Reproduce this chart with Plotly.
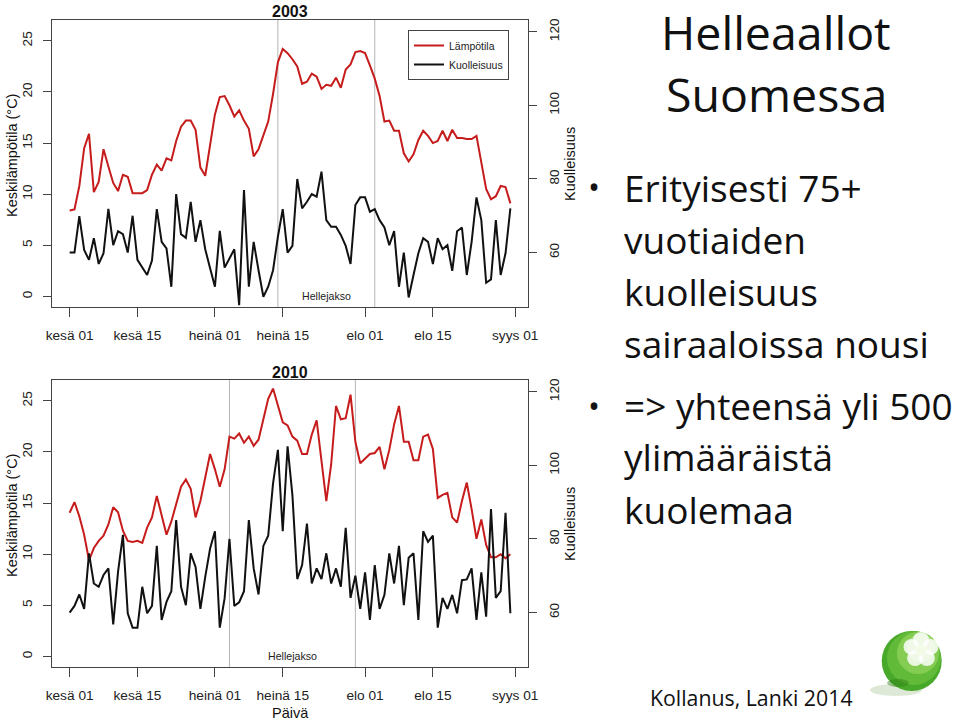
import math
import plotly.graph_objects as go

# ---------------- data ----------------
days = list(range(92))  # day offset from June 1 (June 1 .. Aug 31)
tick_days = [0, 14, 30, 44, 61, 75, 92]
tick_labels = ["kesä 01", "kesä 15", "heinä 01", "heinä 15", "elo 01", "elo 15", "syys 01"]

temp_2003 = [8.4, 8.5, 10.8, 14.5, 15.9, 10.2, 11.2, 14.4, 12.7, 11.1,
             10.3, 11.9, 11.7, 10.1, 10.1, 10.1, 10.4, 11.9, 12.9, 12.3,
             13.5, 13.3, 15.2, 16.6, 17.2, 17.2, 16.3, 12.6, 11.8, 14.7,
             17.8, 19.5, 19.6, 18.7, 17.6, 18.2, 17.2, 16.4, 13.7, 14.4,
             15.8, 17.1, 19.8, 22.9, 24.2, 23.8, 23.2, 22.5, 20.8, 21.0,
             21.8, 21.5, 20.3, 20.7, 20.6, 21.4, 20.4, 22.2, 22.7, 23.9,
             24.0, 23.8, 22.6, 21.3, 19.6, 17.1, 17.2, 16.2, 16.2, 14.0,
             13.2, 13.9, 15.3, 16.2, 15.7, 15.0, 15.2, 16.2, 15.2, 16.3,
             15.5, 15.5, 15.4, 15.4, 15.7, 12.9, 10.5, 9.5, 9.8, 10.8,
             10.7, 9.1]
deaths_2003 = [60.0, 60.0, 69.9, 60.7, 58.0, 63.9, 56.9, 59.8, 71.9, 62.0,
               65.8, 65.0, 60.0, 70.0, 58.0, 56.0, 53.9, 57.8, 71.8, 62.9,
               61.1, 50.7, 75.9, 65.0, 64.0, 73.8, 62.9, 68.8, 60.9, 55.7,
               50.7, 65.9, 55.9, 58.4, 60.9, 45.7, 77.0, 50.7, 62.9, 55.2,
               48.0, 50.7, 55.2, 64.3, 71.8, 60.0, 61.8, 80.0, 72.0, 73.8,
               75.9, 75.2, 82.0, 68.8, 67.0, 67.0, 64.8, 61.8, 56.9, 72.9,
               75.0, 75.0, 71.1, 71.8, 68.8, 66.8, 62.0, 65.8, 50.7, 60.0,
               47.8, 53.9, 59.8, 63.9, 62.9, 56.9, 63.9, 60.9, 62.0, 55.0,
               65.8, 66.8, 53.9, 62.9, 75.0, 68.8, 51.8, 52.7, 68.8, 53.9,
               59.8, 72.0]
temp_2010 = [14.05, 15.1, 13.7, 11.9, 9.4, 10.6, 11.3, 11.8, 12.9, 14.6,
             14.1, 12.3, 11.3, 11.2, 11.3, 11.1, 12.6, 13.6, 15.7, 13.8,
             11.9, 13.2, 14.9, 16.6, 17.3, 16.4, 13.6, 15.2, 17.5, 19.8,
             18.3, 16.6, 18.3, 21.5, 21.3, 21.8, 20.9, 21.5, 20.6, 21.2,
             23.2, 25.2, 26.2, 24.6, 22.9, 22.6, 21.5, 21.1, 19.8, 19.8,
             21.7, 23.1, 19.1, 15.2, 18.8, 24.5, 23.2, 23.3, 25.6, 21.0,
             18.9, 19.4, 19.8, 19.9, 20.5, 18.3, 20.2, 22.7, 24.5, 21.0,
             21.0, 19.2, 19.2, 21.5, 21.7, 20.3, 15.5, 15.8, 16.0, 13.6,
             13.1, 15.2, 17.0, 14.4, 11.5, 13.4, 10.9, 9.7, 9.7, 10.0,
             9.6, 10.0]
deaths_2010 = [60.0, 61.8, 64.9, 61.0, 76.1, 67.9, 67.0, 70.2, 72.0, 56.8,
               71.1, 81.1, 59.8, 55.9, 55.9, 67.0, 59.8, 61.8, 78.1, 58.0,
               62.9, 65.8, 85.1, 67.0, 62.0, 76.1, 72.4, 61.0, 69.7, 77.4,
               82.1, 55.9, 63.9, 80.0, 61.8, 62.8, 65.8, 85.1, 72.0, 64.9,
               78.1, 80.9, 95.1, 104.2, 82.1, 105.2, 91.9, 69.1, 72.9, 84.2,
               67.9, 72.0, 69.1, 76.1, 67.9, 72.0, 67.0, 83.0, 64.0, 70.0,
               61.0, 70.9, 58.0, 72.9, 61.0, 64.8, 76.1, 67.9, 78.1, 62.0,
               74.9, 76.1, 58.0, 82.1, 79.2, 80.9, 55.9, 64.0, 61.0, 64.8,
               59.8, 68.8, 69.0, 72.0, 58.0, 70.9, 58.9, 88.1, 64.0, 65.8,
               87.1, 59.8]
heatwave_2003 = [43, 63]
heatwave_2010 = [33, 59]
temp_ticks = [0, 5, 10, 15, 20, 25]
death_ticks = [60, 80, 100, 120]

title_lines = ["Helleaallot", "Suomessa"]
bullet1_lines = ["Erityisesti 75+", "vuotiaiden", "kuolleisuus", "sairaaloissa nousi"]
bullet2_lines = ["=> yhteensä yli 500", "ylimääräistä", "kuolemaa"]
source_text = "Kollanus, Lanki 2014"

# ---------------- styling ----------------
W, H = 960, 722
RED = "#c61c1c"
BLACK = "#111111"
FRAME = "#444444"
AX_FONT = "Liberation Sans, Arial, sans-serif"
SLIDE_FONT = "Open Sans, Noto Sans, sans-serif"


def px(x):
    return x / W


def py(y):
    return 1 - y / H


fig = go.Figure()

fig.add_trace(go.Scatter(x=days, y=temp_2003, mode="lines", name="Lämpötila",
                         line=dict(color=RED, width=2), xaxis="x", yaxis="y"))
fig.add_trace(go.Scatter(x=days, y=deaths_2003, mode="lines", name="Kuolleisuus",
                         line=dict(color=BLACK, width=2), xaxis="x", yaxis="y2"))
fig.add_trace(go.Scatter(x=days, y=temp_2010, mode="lines", name="Lämpötila",
                         line=dict(color=RED, width=2), xaxis="x2", yaxis="y3",
                         showlegend=False))
fig.add_trace(go.Scatter(x=days, y=deaths_2010, mode="lines", name="Kuolleisuus",
                         line=dict(color=BLACK, width=2), xaxis="x2", yaxis="y4",
                         showlegend=False))

xdom = [px(52), px(528)]
dom_top = [py(307), py(20)]
dom_bot = [py(667), py(380)]
xrange_ = [-3.64, 94.64]
trange = [-1.04, 27.04]
drange = [45.2, 123.2]

tickfont = dict(family=AX_FONT, size=13.7, color="#222")

xcommon = dict(domain=xdom, range=xrange_, tickvals=tick_days, ticktext=tick_labels,
               ticks="outside", ticklen=9, tickcolor=FRAME, showline=True, mirror=True,
               linecolor=FRAME, linewidth=1, showgrid=False, zeroline=False,
               tickfont=tickfont, fixedrange=True, automargin=False, ticklabelstandoff=7)
yleft = dict(range=trange, tickvals=temp_ticks, tickangle=-90, ticks="outside", ticklen=8,
             tickcolor=FRAME, showline=True, mirror=True, linecolor=FRAME, linewidth=1,
             showgrid=False, zeroline=False, tickfont=tickfont, automargin=False,
             ticklabelstandoff=6, fixedrange=True)
yright = dict(range=drange, tickvals=death_ticks, tickangle=-90, ticks="outside", ticklen=8,
              tickcolor=FRAME, showline=False, side="right", showgrid=False,
              zeroline=False, tickfont=tickfont, automargin=False, ticklabelstandoff=6,
              fixedrange=True)

fig.update_layout(
    template="none",
    xaxis=dict(anchor="y", **xcommon),
    yaxis=dict(domain=dom_top, anchor="x", **yleft),
    yaxis2=dict(overlaying="y", anchor="x", **yright),
    xaxis2=dict(anchor="y3", **xcommon),
    yaxis3=dict(domain=dom_bot, anchor="x2", **yleft),
    yaxis4=dict(overlaying="y3", anchor="x2", **yright),
)

shapes = []
annotations = []

for hw, xr, yr in [(heatwave_2003, "x", "y"), (heatwave_2010, "x2", "y3")]:
    for d in hw:
        shapes.append(dict(type="line", xref=xr, yref=yr + " domain", x0=d, x1=d, y0=0, y1=1,
                           line=dict(color="#b4b4b4", width=1), layer="below"))
    annotations.append(dict(xref=xr, yref=yr, x=sum(hw) / 2, y=0, text="Hellejakso",
                            showarrow=False, font=dict(family=AX_FONT, size=10.6, color="#222"),
                            xanchor="center", yanchor="middle"))


def note(x, y, text, size, family=AX_FONT, angle=0, xanchor="center", yanchor="middle"):
    annotations.append(dict(xref="paper", yref="paper", x=px(x), y=py(y), text=text,
                            textangle=angle, showarrow=False,
                            font=dict(family=family, size=size, color="#111"),
                            xanchor=xanchor, yanchor=yanchor))


# panel titles, axis titles
note(290, 12, "<b>2003</b>", 16)
note(290, 372, "<b>2010</b>", 16)
for cy_left, cy_right in [(156, 164), (516, 524)]:
    note(12, cy_left, "Keskilämpötila (°C)", 14.5, angle=-90)
    note(570, cy_right, "Kuolleisuus", 14.5, angle=-90)
note(290, 712.5, "Päivä", 14.5)

# slide text
for t, cy in zip(title_lines, [32, 94]):
    note(776, cy, t, 46.5, family=SLIDE_FONT)
for t, cy in zip(bullet1_lines, [187, 239.5, 291.5, 343.5]):
    note(622, cy, t, 37, family=SLIDE_FONT, xanchor="left")
for t, cy in zip(bullet2_lines, [405, 457, 509]):
    note(622, cy, t, 37, family=SLIDE_FONT, xanchor="left")
for by in [186, 406]:
    note(594, by, "•", 32, family=SLIDE_FONT)
note(751, 697, source_text, 21.3, family=SLIDE_FONT)


# logo (green sphere with flower)
def circ(cx, cy, r, color, opacity=1.0, rx=None, ry=None):
    rx = r if rx is None else rx
    ry = r if ry is None else ry
    return dict(type="circle", xref="paper", yref="paper",
                x0=px(cx - rx), x1=px(cx + rx), y0=py(cy + ry), y1=py(cy - ry),
                fillcolor=color, opacity=opacity, line=dict(width=0), layer="above")


shapes.append(circ(896, 690, 0, "#9fbf8a", 0.35, rx=26, ry=6))
shapes.append(circ(911.7, 661, 30, "#48a82a"))
shapes.append(circ(914, 658, 27, "#62bb38"))
shapes.append(circ(918, 653, 21, "#84cd52"))
shapes.append(circ(921, 648, 14, "#aadf7f"))
fc_x, fc_y = 921, 650
for k in range(5):
    a = math.radians(90 + 72 * k)
    shapes.append(circ(fc_x + 10 * math.cos(a), fc_y - 10 * math.sin(a), 8, "#ffffff", 0.82))
shapes.append(circ(fc_x, fc_y, 6, "#f4fbe9", 0.95))
shapes.append(circ(898, 683, 0, "#2f7d16", 0.45, rx=11, ry=4))

fig.update_layout(
    width=W, height=H, autosize=False,
    margin=dict(l=0, r=0, t=0, b=0, pad=0),
    paper_bgcolor="white", plot_bgcolor="white",
    showlegend=True,
    legend=dict(x=px(408), y=py(30), xanchor="left", yanchor="top",
                bordercolor=FRAME, borderwidth=1, bgcolor="white",
                font=dict(family=AX_FONT, size=10.5, color="#222"),
                tracegroupgap=0, itemwidth=30),
    shapes=shapes, annotations=annotations,
)

fig.write_html("out.html",
               config={"displayModeBar": False},
               post_script="document.body.style.margin='0';document.body.style.overflow='hidden';")
